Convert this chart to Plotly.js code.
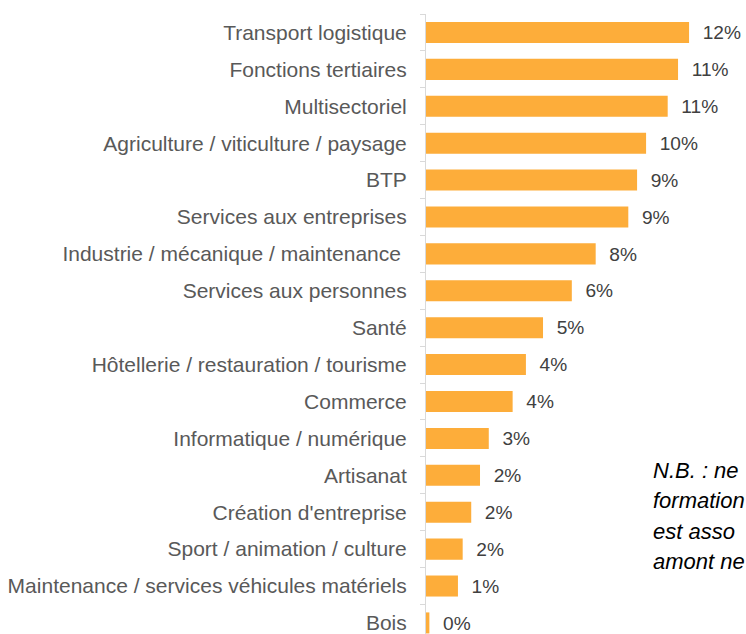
<!DOCTYPE html>
<html>
<head>
<meta charset="utf-8">
<script src="https://cdn.plot.ly/plotly-3.0.1.min.js"></script>
<style>html,body{margin:0;padding:0;background:#fff;overflow:hidden;}#chart{width:746px;height:634px;}</style>
</head>
<body>
<div id="chart"></div>
<script>
const categories = [
  "Transport logistique",
  "Fonctions tertiaires",
  "Multisectoriel",
  "Agriculture / viticulture / paysage",
  "BTP",
  "Services aux entreprises",
  "Industrie / mécanique / maintenance ",
  "Services aux personnes",
  "Santé",
  "Hôtellerie / restauration / tourisme",
  "Commerce",
  "Informatique / numérique",
  "Artisanat",
  "Création d'entreprise",
  "Sport / animation / culture",
  "Maintenance / services véhicules matériels",
  "Bois"
];
const values = [11.69, 11.2, 10.74, 9.78, 9.38, 8.99, 7.54, 6.48, 5.2, 4.44, 3.85, 2.79, 2.4, 2.01, 1.63, 1.42, 0.15];
const valueLabels = ["12%","11%","11%","10%","9%","9%","8%","6%","5%","4%","4%","3%","2%","2%","2%","1%","0%"];
const noteLines = ["N.B. : ne", "formation", "est asso", "amont ne"];

const trace = {
  type: "bar",
  orientation: "h",
  y: categories,
  x: values,
  text: valueLabels,
  texttemplate: "\u00a0\u00a0%{text}",
  textposition: "outside",
  cliponaxis: false,
  textfont: {family: "Liberation Sans, Arial, sans-serif", size: 20, color: "#404040"},
  marker: {color: "#FDAD3A"},
  hoverinfo: "none"
};

const noteAnn = noteLines.map((t, i) => ({
  xref: "paper", yref: "paper",
  x: (651 - 426) / 320, xanchor: "left",
  y: 1 - (470 + i * 30.5 - 14) / 620, yanchor: "middle",
  text: t, showarrow: false,
  font: {family: "Liberation Sans, Arial, sans-serif", size: 22, color: "#000000", style: "italic"}
}));

const layout = {
  width: 746, height: 634,
  margin: {l: 426, r: 0, t: 14, b: 0},
  paper_bgcolor: "#ffffff", plot_bgcolor: "#ffffff",
  bargap: 0.43,
  showlegend: false,
  xaxis: {range: [0, 14.22], visible: false, fixedrange: true},
  yaxis: {
    type: "category",
    range: [16.3, -0.5],
    showline: true, linecolor: "#d9d9d9", linewidth: 1,
    ticks: "outside", ticklen: 5, tickcolor: "#d9d9d9", tickson: "boundaries",
    showgrid: false, zeroline: false,
    ticklabelstandoff: 14,
    tickfont: {family: "Liberation Sans, Arial, sans-serif", size: 21, color: "#595959"}
  },
  annotations: noteAnn
};

Plotly.newPlot("chart", [trace], layout, {displayModeBar: false, staticPlot: true});
</script>
</body>
</html>
